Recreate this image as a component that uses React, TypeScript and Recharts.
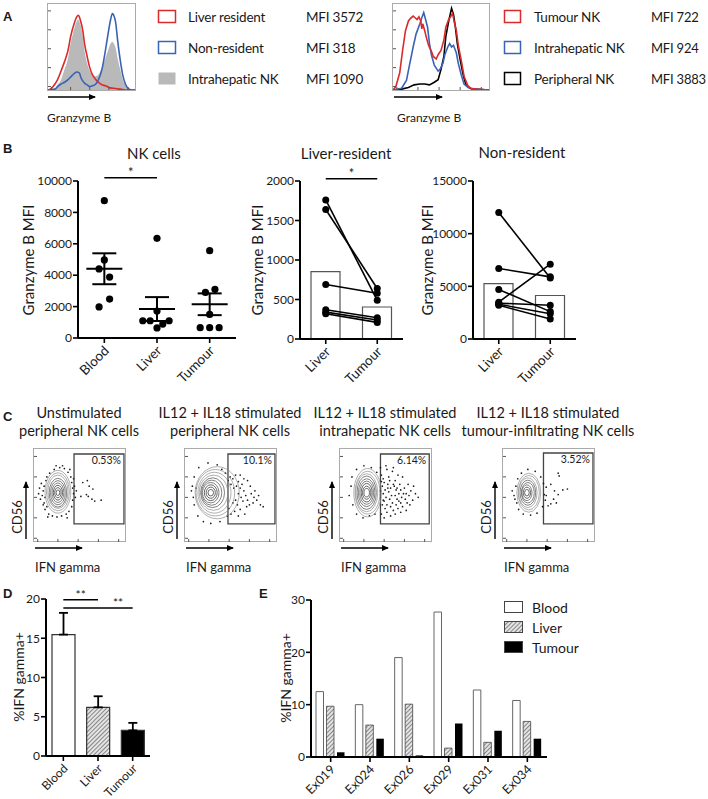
import React from 'react';
import {
  ComposedChart, ScatterChart, BarChart, Line, Area, Scatter, Bar, Cell,
  XAxis, YAxis, ErrorBar, ReferenceLine, ReferenceArea, Legend,
} from 'recharts';

const FONT = 'Lato, "Open Sans", Arial, sans-serif';
const INK = '#1a1a1a';
const W = 708;
const H = 799;

/* ---------- A: granzyme B histograms, [channel 0-100, % of max] ---------- */
const liverResidentHist = [[0,0],[4,2],[8,7],[11,12],[15,22],[19,33],[23,46],[26,62],[30,77],[33,85],[35,87],[37,82],[40,69],[42,54],[45,39],[48,26],[51,18],[55,12],[58,9],[62,6],[66,5],[70,3],[75,2],[83,1],[91,0],[100,0]];
const nonResidentHist = [[0,0],[8,1],[11,4],[15,7],[19,9],[23,12],[26,15],[30,19],[33,21],[36,20],[38,14],[42,8],[45,6],[48,4],[51,5],[55,7],[58,12],[62,24],[66,46],[69,65],[72,82],[74,89],[75,88],[78,77],[80,58],[83,35],[86,17],[89,7],[92,2],[96,0],[100,0]];
const intrahepaticHistA = [[0,0],[8,2],[11,6],[15,12],[19,24],[23,37],[26,54],[30,71],[33,80],[35,82],[37,77],[40,62],[42,46],[45,31],[48,22],[51,18],[55,16],[58,18],[62,26],[66,37],[69,46],[72,54],[74,56],[75,55],[78,48],[80,37],[83,24],[86,12],[89,6],[92,2],[96,0],[100,0]];
const tumourNkHist = [[0,0],[3,4],[7,20],[10,46],[13,69],[16,80],[18,83],[21,86],[23,84],[25,82],[27,85],[29,80],[30,71],[31,77],[33,69],[35,60],[37,52],[40,45],[42,39],[45,36],[47,41],[50,46],[53,58],[55,73],[58,82],[60,85],[62,89],[64,78],[66,69],[68,52],[71,35],[74,16],[78,5],[81,2],[86,1],[100,0]];
const intrahepaticHistB = [[0,0],[9,2],[14,11],[17,28],[21,50],[24,65],[28,77],[30,84],[32,90],[33,86],[36,73],[38,54],[40,41],[43,29],[47,22],[49,24],[52,31],[54,41],[57,50],[59,54],[61,50],[63,52],[66,43],[68,31],[71,18],[74,7],[78,3],[83,1],[100,0]];
const peripheralNkHist = [[0,0],[9,1],[16,3],[22,6],[28,7],[33,7],[38,6],[43,9],[47,12],[50,24],[53,39],[55,62],[58,80],[60,90],[61,95],[63,88],[65,73],[67,54],[70,35],[73,18],[76,6],[80,2],[84,1],[100,0]];

const legendA1 = ['Liver resident', 'Non-resident', 'Intrahepatic NK'];
const mfiA1 = [3572, 318, 1090];
const legendA2 = ['Tumour NK', 'Intrahepatic NK', 'Peripheral NK'];
const mfiA2 = [722, 924, 3883];

/* ---------- B: granzyme B MFI ---------- */
const nkGroups = ['Blood', 'Liver', 'Tumour'];
const nkBlood = [8750, 4970, 4400, 3880, 2480, 1980];
const nkLiver = [6350, 1720, 1100, 1100, 1100, 890, 640];
const nkTumour = [5560, 3100, 2900, 1500, 660, 660, 660];
// horizontal scatter of each dot inside its column (column units)
const nkBloodJitter = [0, 0, -0.1, 0.1, 0.1, -0.1];
const nkLiverJitter = [0, 0, -0.27, -0.13, 0.23, 0.11, 0];
const nkTumourJitter = [0, 0.1, -0.08, 0, -0.18, 0, 0.18];

const pairedGroups = ['Liver', 'Tumour'];
const lrLiver = [1760, 1640, 690, 370, 340, 320];
const lrTumour = [490, 640, 580, 270, 240, 210];
const nrLiver = [12000, 6700, 4700, 3500, 3400, 3300, 3200];
const nrTumour = [5800, 5900, 2600, 7100, 3200, 2400, 1900];

/* ---------- C: IFN gamma flow plots ---------- */
const flowTitles = [
  ['Unstimulated', 'peripheral NK cells'],
  ['IL12 + IL18 stimulated', 'peripheral NK cells'],
  ['IL12 + IL18 stimulated', 'intrahepatic NK cells'],
  ['IL12 + IL18 stimulated', 'tumour-infiltrating NK cells'],
];
const flowPercent = ['0.53%', '10.1%', '6.14%', '3.52%'];
const flowGates = [[43.5, 97.8, 19.4, 94.6], [46.7, 97.8, 19.4, 94.6], [44, 97, 19.4, 94.6], [44, 97.8, 19.4, 95.7]];
// contour levels: [centre x, centre y, half width, half height]
const unstimContours = [[26,54,14,23],[26,54,12.5,20.5],[26,54,11,18],[26,53,9.5,15.5],[26,53,8,13],[26,53,6.5,10.5],[26,53,5,8],[26,53,3.5,5.5],[26,53,2,3]];
const pbContours = [[35,53,24,28],[33,53,21,25],[32,53,18,22],[31,53,15.5,19],[30,53,13,16],[29,53,11,13.5],[28,53,9,11],[28,53,7,8.5],[28,53,5,6],[28,53,3,3.5]];
const ihContours = [[30,53,15,26],[30,53,13.5,23],[29,53,12,20.5],[29,53,10.5,18],[29,53,9,15],[29,53,7.5,12.5],[29,53,6,10],[29,53,4.5,7],[29,53,3,4.5]];
const tilContours = [[28,53,13,21],[28,53,11.5,18.5],[27,53,10,16],[27,53,8.5,13.5],[27,53,7,11],[26,53,5.5,8.5],[26,53,4,6],[26,53,2.5,3.5]];
const unstimEvents = [[11,60],[10,55],[12,48],[11,42],[9,50],[13,66],[14,38],[12,35],[16,30],[20,28],[25,27],[30,28],[35,30],[38,33],[41,38],[42,45],[43,52],[42,58],[41,64],[40,70],[37,75],[33,79],[28,80],[22,78],[17,74],[14,70],[7,46],[6,58],[15,27],[44,60],[45,48],[36,26],[10,40],[43,68],[24,82],[31,82],[5,52],[8,63],[46,55],[39,78],[53,64],[58,66],[60,60],[64,57],[59,49],[63,46],[66,44],[73,45],[57,51],[51,49]];
const pbEvents = [[47,66],[49,70],[52,68],[55,72],[58,65],[50,62],[53,58],[56,60],[60,58],[62,62],[64,55],[58,52],[61,48],[55,45],[52,42],[57,40],[63,44],[66,50],[68,45],[70,40],[72,52],[75,48],[67,38],[60,35],[54,33],[48,36],[50,30],[58,28],[65,30],[74,42],[78,45],[82,40],[71,60],[64,68],[60,72],[68,66],[76,55],[85,38],[46,28],[44,74],[40,78],[35,83],[25,85],[15,80],[10,70],[8,60],[9,48],[10,40],[14,28],[20,22],[28,20],[38,22],[12,58],[7,55],[80,50]];
const ihEvents = [[45,72],[47,68],[48,64],[46,60],[49,56],[47,52],[50,48],[48,44],[46,40],[49,36],[51,32],[53,70],[54,66],[52,62],[55,58],[53,54],[56,50],[54,46],[57,42],[55,38],[58,34],[60,66],[59,60],[61,56],[60,50],[62,46],[61,40],[63,36],[65,62],[66,56],[64,52],[67,48],[66,42],[68,38],[70,58],[72,52],[71,46],[73,42],[75,50],[77,55],[79,45],[82,52],[85,48],[68,70],[63,72],[57,76],[51,78],[45,30],[48,26],[55,28],[60,30],[66,32],[72,34],[76,40],[74,62],[80,60],[58,80],[50,82],[44,80],[47,45],[51,40],[52,58],[58,62],[62,58],[64,44],[69,52],[44,55],[45,65],[12,60],[10,50],[14,40],[18,30],[25,26],[32,28],[38,30],[40,75],[34,80],[26,82],[18,78],[13,70]];
const tilEvents = [[47,59],[52,62],[60,74],[61,71],[56,55],[60,51],[65,56],[70,57],[55,46],[49,39],[52,41],[58,42],[47,50],[45,51],[14,60],[12,50],[15,42],[17,35],[22,30],[30,29],[37,31],[43,38],[46,45],[44,63],[41,70],[35,76],[27,78],[20,74],[16,68],[10,55],[13,46]];
const flowContours = [unstimContours, pbContours, ihContours, tilContours];
const flowEvents = [unstimEvents, pbEvents, ihEvents, tilEvents];
// log-decade tick marks along the cytometer axes
const logTicks = [4, 26, 48, 70, 92];

/* ---------- D / E: % IFN gamma+ ---------- */
const tissues = ['Blood', 'Liver', 'Tumour'];
const samples = ['Ex019', 'Ex024', 'Ex026', 'Ex029', 'Ex031', 'Ex034'];
const ifnBlood = [12.5, 10.0, 19.0, 27.7, 12.8, 10.8];
const ifnLiver = [9.7, 6.1, 10.1, 1.7, 2.8, 6.8];
const ifnTumour = [0.9, 3.5, 0.3, 6.4, 5.0, 3.5];

const mean = (a: number[]) => a.reduce((s, v) => s + v, 0) / a.length;
const sem = (a: number[]) => {
  const m = mean(a);
  return Math.sqrt(a.reduce((s, v) => s + (v - m) ** 2, 0) / (a.length - 1)) / Math.sqrt(a.length);
};

const axisLine = { stroke: '#000', strokeWidth: 2 };
const tickLine = { stroke: '#000', strokeWidth: 1.6 };
const yTick = { fontSize: 12, fill: INK, fontFamily: FONT };
const blank = () => '';

function RotTick(props: any) {
  const { x, y, payload, names, fontSize = 13.5 } = props;
  const text = names ? names[Math.floor(payload.value)] : payload.value;
  const ax = x + 2;
  const ay = y + 3;
  return (
    <text x={ax} y={ay} transform={`rotate(-45 ${ax} ${ay})`} textAnchor="end" dominantBaseline="central"
      fontSize={fontSize} fill={INK} fontFamily={FONT}>{text}</text>
  );
}

function CytoAxes({ xKey, yKey }: { xKey?: string; yKey?: string }) {
  return (
    <>
      <XAxis type="number" dataKey={xKey} domain={[0, 100]} mirror ticks={logTicks} interval={0} tickSize={3}
        tickFormatter={blank} axisLine={false} tickLine={{ stroke: '#555', strokeWidth: 1 }} />
      <YAxis type="number" dataKey={yKey} domain={[0, 100]} mirror ticks={logTicks} interval={0} tickSize={3}
        tickFormatter={blank} axisLine={false} tickLine={{ stroke: '#555', strokeWidth: 1 }} />
    </>
  );
}

function Histogram({ width, height, fill, lines }: { width: number; height: number; fill?: number[][]; lines: { data: number[][]; color: string; smooth?: boolean }[] }) {
  const base = fill ? fill.map(([ch, h]) => ({ ch, h })) : undefined;
  return (
    <ComposedChart width={width} height={height} data={base} margin={{ top: 0, right: 0, bottom: 0, left: 0 }}>
      {CytoAxes({ xKey: 'ch' })}
      {base && <Area dataKey="h" type="monotone" fill="#b9b9b9" fillOpacity={1} stroke="none" isAnimationActive={false} />}
      {lines.map((l, i) => (
        <Line key={i} data={l.data.map(([ch, h]) => ({ ch, h }))} dataKey="h" type={l.smooth ? 'monotone' : 'linear'}
          stroke={l.color} strokeWidth={1.6} dot={false} activeDot={false} isAnimationActive={false} />
      ))}
    </ComposedChart>
  );
}

const FLOW_W = 92;
const FLOW_H = 93;
const flowLefts = [33, 184, 339, 502];
const FLOW_TOP = 448;

function FlowPlot({ idx }: { idx: number }) {
  const kx = FLOW_W / 100;
  const ky = FLOW_H / 100;
  const g = flowGates[idx];
  const rings = flowContours[idx].map(([x, y, rx, ry], i) => ({ x, y, rx, ry, i }));
  const n = rings.length;
  return (
    <ScatterChart width={FLOW_W} height={FLOW_H} margin={{ top: 0, right: 0, bottom: 0, left: 0 }}>
      {CytoAxes({ xKey: 'x', yKey: 'y' })}
      <Scatter data={flowEvents[idx].map(([x, y]) => ({ x, y }))} isAnimationActive={false}
        shape={(p: any) => <circle cx={p.cx} cy={p.cy} r={0.85} fill="#1a1a1a" />} />
      <Scatter data={rings} isAnimationActive={false}
        shape={(p: any) => (
          <ellipse cx={p.cx} cy={p.cy} rx={p.payload.rx * kx} ry={p.payload.ry * ky} fill="none"
            stroke={p.payload.i < n / 3 ? '#8c8c8c' : p.payload.i < (2 * n) / 3 ? '#6a6a6a' : '#4a4a4a'}
            strokeWidth={p.payload.i < n / 3 ? 0.7 : 0.85} />
        )} />
      <ReferenceArea x1={g[0]} x2={g[1]} y1={g[2]} y2={g[3]} fill="none" stroke="#444" strokeWidth={1.3} ifOverflow="visible"
        label={{ value: flowPercent[idx], position: 'insideTopRight', fontSize: 10.5, fill: INK, fontFamily: FONT, offset: 3 }} />
    </ScatterChart>
  );
}

function NkCellsChart() {
  const pts = [
    ...nkBlood.map((y, i) => ({ x: 0.5 + nkBloodJitter[i], y })),
    ...nkLiver.map((y, i) => ({ x: 1.5 + nkLiverJitter[i], y })),
    ...nkTumour.map((y, i) => ({ x: 2.5 + nkTumourJitter[i], y })),
  ];
  const stats = [nkBlood, nkLiver, nkTumour].map((a, i) => ({ x: i + 0.5, y: mean(a), sem: sem(a) }));
  return (
    <ScatterChart width={240} height={250} margin={{ top: 41, right: 4, bottom: 0, left: 0 }}>
      <XAxis type="number" dataKey="x" domain={[0, 3]} ticks={[0.5, 1.5, 2.5]} interval={0} height={52}
        axisLine={axisLine} tickLine={tickLine} tickSize={5} tick={<RotTick names={nkGroups} />} />
      <YAxis type="number" dataKey="y" domain={[0, 10000]} ticks={[0, 2000, 4000, 6000, 8000, 10000]} width={78}
        axisLine={axisLine} tickLine={tickLine} tickSize={5} tickMargin={1} tick={yTick} />
      <Scatter data={pts} isAnimationActive={false} shape={(p: any) => <circle cx={p.cx} cy={p.cy} r={3.6} fill="#000" />} />
      <Scatter data={stats} isAnimationActive={false}
        shape={(p: any) => <line x1={p.cx - 18} x2={p.cx + 18} y1={p.cy} y2={p.cy} stroke="#000" strokeWidth={2} />}>
        <ErrorBar dataKey="sem" direction="y" width={12} stroke="#000" strokeWidth={2} />
      </Scatter>
      <ReferenceLine segment={[{ x: 0.5, y: 10200 }, { x: 1.5, y: 10200 }]} stroke="#000" strokeWidth={1.5} ifOverflow="visible"
        label={{ value: '*', position: 'top', fontSize: 13, fill: INK, fontFamily: FONT, offset: 1 }} />
    </ScatterChart>
  );
}

function PairedChart({ liver, tumour, max, ticks, yWidth, right, sig }: { liver: number[]; tumour: number[]; max: number; ticks: number[]; yWidth: number; right: number; sig?: number }) {
  const rows = [liver, tumour].map((a, gi) => {
    const row: any = { name: pairedGroups[gi], mean: mean(a) };
    a.forEach((v, i) => { row[`s${i}`] = v; });
    return row;
  });
  return (
    <ComposedChart width={yWidth + 103 + right} height={250} data={rows} margin={{ top: 41, right, bottom: 0, left: 0 }}>
      <XAxis dataKey="name" type="category" height={51} interval={0} axisLine={axisLine} tickLine={tickLine} tickSize={5}
        tick={<RotTick />} />
      <YAxis type="number" domain={[0, max]} ticks={ticks} width={yWidth} axisLine={axisLine} tickLine={tickLine}
        tickSize={5} tickMargin={1} tick={yTick} />
      <Bar dataKey="mean" barSize={29} fill="#fff" stroke="#555" strokeWidth={1.2} isAnimationActive={false} />
      {liver.map((_, i) => (
        <Line key={i} dataKey={`s${i}`} stroke="#000" strokeWidth={1.6} type="linear" isAnimationActive={false}
          dot={{ r: 3.5, fill: '#000', stroke: '#000', strokeWidth: 0 }} activeDot={false} />
      ))}
      {sig !== undefined && (
        <ReferenceLine segment={[{ x: 'Liver', y: sig }, { x: 'Tumour', y: sig }]} stroke="#000" strokeWidth={1.5} ifOverflow="visible"
          label={{ value: '*', position: 'top', fontSize: 13, fill: INK, fontFamily: FONT, offset: 1 }} />
      )}
    </ComposedChart>
  );
}

const tissueFillD = ['#fff', 'url(#hatchD)', '#000'];

function SummaryBars() {
  const rows = [ifnBlood, ifnLiver, ifnTumour].map((a, i) => ({ name: tissues[i], mean: mean(a), err: [0, sem(a)] }));
  return (
    <BarChart width={240} height={214} data={rows} margin={{ top: 14, right: 90, bottom: 0, left: 0 }}>
      <defs>
        <pattern id="hatchD" patternUnits="userSpaceOnUse" width="3" height="3" patternTransform="rotate(45)">
          <rect width="3" height="3" fill="#e4e4e4" />
          <line x1="0" y1="0" x2="0" y2="3" stroke="#555" strokeWidth="1.3" />
        </pattern>
      </defs>
      <XAxis dataKey="name" height={43} interval={0} axisLine={axisLine} tickLine={tickLine} tickSize={5} tick={<RotTick fontSize={12} />} />
      <YAxis domain={[0, 20]} ticks={[0, 5, 10, 15, 20]} width={46} axisLine={axisLine} tickLine={tickLine} tickSize={5} tickMargin={1} tick={yTick} />
      <Bar dataKey="mean" barSize={23} isAnimationActive={false}>
        {rows.map((r, i) => <Cell key={r.name} fill={tissueFillD[i]} stroke="#333" strokeWidth={1.2} />)}
        <ErrorBar dataKey="err" direction="y" width={4.5} stroke="#000" strokeWidth={1.8} />
      </Bar>
      <ReferenceLine segment={[{ x: 'Blood', y: 19.9 }, { x: 'Liver', y: 19.9 }]} stroke="#000" strokeWidth={1.5} ifOverflow="visible"
        label={{ value: '**', position: 'top', fontSize: 12, fill: INK, fontFamily: FONT, offset: 1 }} />
      <ReferenceLine segment={[{ x: 'Blood', y: 18.85 }, { x: 'Tumour', y: 18.85 }]} stroke="#000" strokeWidth={1.5} ifOverflow="visible"
        label={{ value: '**', position: 'top', fontSize: 12, fill: INK, fontFamily: FONT, offset: 1, dx: 20 }} />
    </BarChart>
  );
}

function legendContent(props: any) {
  const items = props.payload || [];
  return (
    <div style={{ fontFamily: FONT, fontSize: 14, color: INK }}>
      {items.map((e: any) => {
        const f = (e.payload && e.payload.fill) || e.color;
        return (
          <div key={e.value} style={{ display: 'flex', alignItems: 'center', height: 20 }}>
            <svg width={19} height={12} style={{ overflow: 'visible' }}>
              <rect x={0.5} y={0.5} width={18} height={11} fill={f} stroke="#444" strokeWidth={1} />
            </svg>
            <span style={{ marginLeft: 9 }}>{e.value}</span>
          </div>
        );
      })}
    </div>
  );
}

function SampleBars() {
  const rows = samples.map((s, i) => ({ name: s, blood: ifnBlood[i], liver: ifnLiver[i], tumour: ifnTumour[i] }));
  return (
    <BarChart width={468} height={209} data={rows} margin={{ top: 10, right: 161, bottom: 0, left: 0 }} barGap={3}>
      <defs>
        <pattern id="hatchE" patternUnits="userSpaceOnUse" width="3" height="3" patternTransform="rotate(45)">
          <rect width="3" height="3" fill="#e4e4e4" />
          <line x1="0" y1="0" x2="0" y2="3" stroke="#555" strokeWidth="1.3" />
        </pattern>
      </defs>
      <XAxis dataKey="name" height={42} interval={0} axisLine={axisLine} tickLine={tickLine} tickSize={5} tick={<RotTick fontSize={12.5} />} />
      <YAxis domain={[0, 30]} ticks={[0, 10, 20, 30]} width={71} axisLine={axisLine} tickLine={tickLine} tickSize={5} tickMargin={1} tick={yTick} />
      <Bar dataKey="blood" name="Blood" barSize={7.5} fill="#fff" stroke="#666" strokeWidth={1} isAnimationActive={false} />
      <Bar dataKey="liver" name="Liver" barSize={7.5} fill="url(#hatchE)" stroke="#444" strokeWidth={0.8} isAnimationActive={false} />
      <Bar dataKey="tumour" name="Tumour" barSize={7.5} fill="#000" isAnimationActive={false} />
      <Legend layout="vertical" align="center" verticalAlign="middle" content={legendContent}
        wrapperStyle={{ left: 264, top: 7, width: 'auto' }} />
    </BarChart>
  );
}

function Arrow({ x1, y1, x2, y2 }: { x1: number; y1: number; x2: number; y2: number }) {
  return <line x1={x1} y1={y1} x2={x2} y2={y2} stroke="#000" strokeWidth={1.4} markerEnd="url(#ah)" />;
}

function VText({ x, y, size, children }: { x: number; y: number; size: number; children: React.ReactNode }) {
  return (
    <text x={x} y={y} transform={`rotate(-90 ${x} ${y})`} textAnchor="middle" dominantBaseline="central" fontSize={size} fill={INK}>{children}</text>
  );
}

function Overlay() {
  const rowsY = [16.5, 47.5, 78.5];
  const a1Styles = [{ stroke: '#d92b2b', fill: '#fff' }, { stroke: '#3a63b6', fill: '#fff' }, { stroke: 'none', fill: '#b9b9b9' }];
  const a2Styles = [{ stroke: '#d92b2b', fill: '#fff' }, { stroke: '#3a63b6', fill: '#fff' }, { stroke: '#000', fill: '#fff' }];
  const lg = { fontSize: 13.5, fill: INK, letterSpacing: -0.2 };
  return (
    <svg width={W} height={H} style={{ position: 'absolute', left: 0, top: 0 }} fontFamily={FONT}>
      <defs>
        <marker id="ah" markerWidth="7" markerHeight="6" refX="6" refY="3" orient="auto" markerUnits="userSpaceOnUse">
          <path d="M0,0 L7,3 L0,6 z" fill="#000" />
        </marker>
      </defs>
      {/* panel letters */}
      {[['A', 3, 16], ['B', 3, 148], ['C', 3, 416], ['D', 3, 593], ['E', 259, 593]].map(([l, x, y]) => (
        <text key={l as string} x={x as number} y={y as number} dominantBaseline="central" fontSize={13} fontWeight="bold" fontFamily="Liberation Sans, Arial, sans-serif" fill={INK}>{l}</text>
      ))}

      {/* A frames, axis arrows and legends */}
      <rect x={47.5} y={3.5} width={88} height={87} fill="none" stroke="#aaa" strokeWidth={1} />
      <rect x={392.5} y={3.5} width={97} height={87} fill="none" stroke="#aaa" strokeWidth={1} />
      <Arrow x1={48} y1={97} x2={95} y2={97} />
      <Arrow x1={394} y1={97} x2={442} y2={97} />
      <text x={47} y={117} dominantBaseline="central" fontSize={12} fill={INK}>Granzyme B</text>
      <text x={397} y={117} dominantBaseline="central" fontSize={12} fill={INK}>Granzyme B</text>
      {legendA1.map((t, i) => (
        <g key={t}>
          <rect x={158.5} y={rowsY[i] - 6} width={17} height={12} fill={a1Styles[i].fill} stroke={a1Styles[i].stroke} strokeWidth={1.5} />
          <text x={188} y={rowsY[i]} dominantBaseline="central" {...lg}>{t}</text>
          <text x={306} y={rowsY[i]} dominantBaseline="central" {...lg}>MFI {mfiA1[i]}</text>
        </g>
      ))}
      {legendA2.map((t, i) => (
        <g key={t}>
          <rect x={504.5} y={rowsY[i] - 6} width={16} height={12} fill={a2Styles[i].fill} stroke={a2Styles[i].stroke} strokeWidth={1.5} />
          <text x={534} y={rowsY[i]} dominantBaseline="central" {...lg}>{t}</text>
          <text x={651} y={rowsY[i]} dominantBaseline="central" {...lg} fontSize={13}>MFI {mfiA2[i]}</text>
        </g>
      ))}

      {/* B titles and axis titles */}
      <text x={154} y={153} textAnchor="middle" dominantBaseline="central" fontSize={15} fill={INK}>NK cells</text>
      <text x={346} y={153} textAnchor="middle" dominantBaseline="central" fontSize={15} fill={INK}>Liver-resident</text>
      <text x={522} y={152} textAnchor="middle" dominantBaseline="central" fontSize={15} fill={INK}>Non-resident</text>
      <VText x={28} y={260} size={15}>Granzyme B MFI</VText>
      <VText x={257} y={260} size={15}>Granzyme B MFI</VText>
      <VText x={427} y={260} size={15}>Granzyme B MFI</VText>

      {/* C titles, frames and axis arrows */}
      {flowLefts.map((l, i) => (
        <g key={i}>
          <text x={l + 46} y={412} textAnchor="middle" dominantBaseline="central" fontSize={14.5} fill={INK}>{flowTitles[i][0]}</text>
          <text x={l + 46} y={430} textAnchor="middle" dominantBaseline="central" fontSize={14.5} fill={INK}>{flowTitles[i][1]}</text>
          <rect x={l + 0.5} y={FLOW_TOP + 0.5} width={FLOW_W} height={FLOW_H} fill="none" stroke="#aaa" strokeWidth={1} />
          <Arrow x1={l + 2} y1={FLOW_TOP + 100} x2={l + 49} y2={FLOW_TOP + 100} />
          <Arrow x1={l - 7} y1={FLOW_TOP + 91} x2={l - 7} y2={FLOW_TOP + 34} />
          <text x={l + 2} y={FLOW_TOP + 119} dominantBaseline="central" fontSize={13} fill={INK}>IFN gamma</text>
          <VText x={l - 16} y={FLOW_TOP + 69} size={13}>CD56</VText>
        </g>
      ))}

      {/* D / E axis titles */}
      <VText x={18} y={677} size={14}>%IFN gamma+</VText>
      <VText x={285} y={678} size={14}>%IFN gamma+</VText>
    </svg>
  );
}

export default function App() {
  return (
    <div style={{ position: 'absolute', left: 0, top: 0, width: W, height: H, background: '#fff', fontFamily: FONT, color: INK, overflow: 'hidden' }}>
      <Overlay />
      <div style={{ position: 'absolute', left: 48, top: 4 }}>
        <Histogram width={87} height={86} fill={intrahepaticHistA}
          lines={[{ data: liverResidentHist, color: '#d92b2b', smooth: true }, { data: nonResidentHist, color: '#3a63b6', smooth: true }]} />
      </div>
      <div style={{ position: 'absolute', left: 393, top: 4 }}>
        <Histogram width={96} height={86}
          lines={[{ data: peripheralNkHist, color: '#000' }, { data: intrahepaticHistB, color: '#3a63b6' }, { data: tumourNkHist, color: '#d92b2b' }]} />
      </div>

      <div style={{ position: 'absolute', left: 0, top: 140 }}><NkCellsChart /></div>
      <div style={{ position: 'absolute', left: 240, top: 140 }}>
        <PairedChart liver={lrLiver} tumour={lrTumour} max={2000} ticks={[0, 500, 1000, 1500, 2000]} yWidth={60} right={77} sig={2030} />
      </div>
      <div style={{ position: 'absolute', left: 410, top: 140 }}>
        <PairedChart liver={nrLiver} tumour={nrTumour} max={15000} ticks={[0, 5000, 10000, 15000]} yWidth={63} right={131} />
      </div>

      {flowLefts.map((l, i) => (
        <div key={i} style={{ position: 'absolute', left: l + 1, top: FLOW_TOP + 1 }}><FlowPlot idx={i} /></div>
      ))}

      <div style={{ position: 'absolute', left: 0, top: 585 }}><SummaryBars /></div>
      <div style={{ position: 'absolute', left: 240, top: 590 }}><SampleBars /></div>
    </div>
  );
}
